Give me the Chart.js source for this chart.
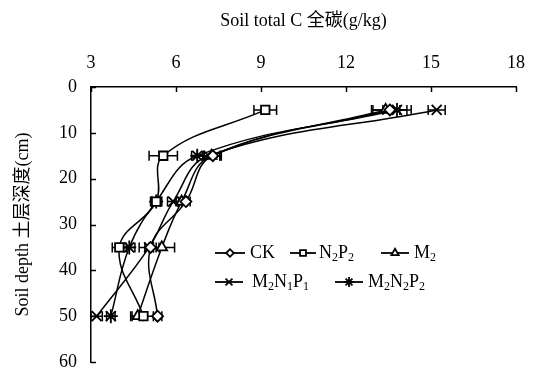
<!DOCTYPE html>
<html><head><meta charset="utf-8">
<script src="https://cdn.jsdelivr.net/npm/chart.js@4"></script>
<style>html,body{margin:0;padding:0;background:#fff}</style>
</head><body>
<canvas id="c" width="534" height="373"></canvas>
<script>
// ---- data ----
const depths = [5, 15, 25, 35, 50];
const seriesNames = ["CK", "N2P2", "M2", "M2N1P1", "M2N2P2"];
const ck     = [13.55, 7.3, 6.35, 5.1, 5.35];
const n2p2   = [9.15, 5.55, 5.3, 4.0, 4.85];
const m2     = [13.4, 7.25, 6.2, 5.5, 4.65];
const m2n1p1 = [15.2, 7.15, 5.9, 5.05, 3.2];
const m2n2p2 = [13.8, 6.75, 5.3, 4.35, 3.7];
const ckErr     = [0.6, 0.3, 0.15, 0.2, 0.15];
const n2p2Err   = [0.4, 0.5, 0.2, 0.25, 0.45];
const m2Err     = [0.5, 0.3, 0.2, 0.45, 0.2];
const m2n1p1Err = [0.3, 0.4, 0.2, 0.35, 0.2];
const m2n2p2Err = [0.5, 0.2, 0.15, 0.2, 0.15];
const xTicks = [3, 6, 9, 12, 15, 18];
const yTicks = [0, 10, 20, 30, 40, 50, 60];
const xTitle = "Soil total C 全碳(g/kg)";
const yTitle = "Soil depth 土层深度(cm)";

const FONT = '"Liberation Serif", "Times New Roman", "Noto Sans CJK SC", serif';
const styles = ["rectRot", "rect", "triangle", "crossRot", "star"];
const radii = [5.5, 6, 6, 7, 7];
const values = [ck, n2p2, m2, m2n1p1, m2n2p2];
const errs = [ckErr, n2p2Err, m2Err, m2n1p1Err, m2n2p2Err];

const datasets = seriesNames.map((name, i) => ({
  label: name,
  data: depths.map((d, j) => ({x: values[i][j], y: d})),
  errors: errs[i],
  showLine: true,
  tension: 0.4,
  borderColor: '#000',
  borderWidth: 1.5,
  pointStyle: styles[i],
  pointRadius: radii[i],
  pointHoverRadius: radii[i],
  pointBackgroundColor: '#fff',
  pointBorderColor: '#000',
  pointBorderWidth: 1.8,
  fill: false
}));

const helperPlugin = {
  id: 'helper',
  beforeDatasetsDraw(chart) {
    const ctx = chart.ctx, xs = chart.scales.x, ys = chart.scales.y;
    ctx.save();
    ctx.strokeStyle = '#000';
    ctx.lineWidth = 1.5;
    chart.data.datasets.forEach(ds => {
      ds.data.forEach((p, j) => {
        const e = ds.errors[j];
        const x0 = xs.getPixelForValue(p.x - e), x1 = xs.getPixelForValue(p.x + e);
        const y = ys.getPixelForValue(p.y);
        ctx.beginPath();
        ctx.moveTo(x0, y); ctx.lineTo(x1, y);
        ctx.moveTo(x0, y - 5); ctx.lineTo(x0, y + 5);
        ctx.moveTo(x1, y - 5); ctx.lineTo(x1, y + 5);
        ctx.stroke();
      });
    });
    ctx.restore();
  },
  afterDraw(chart) {
    const ctx = chart.ctx, xs = chart.scales.x, ys = chart.scales.y;
    const area = chart.chartArea;
    ctx.save();
    ctx.strokeStyle = '#000';
    ctx.lineWidth = 1.5;
    // inward ticks
    xTicks.forEach(v => {
      const x = Math.round(xs.getPixelForValue(v)) + 0.5;
      ctx.beginPath(); ctx.moveTo(x, area.top); ctx.lineTo(x, area.top + 5); ctx.stroke();
    });
    yTicks.forEach(v => {
      const y = Math.round(ys.getPixelForValue(v)) + 0.5;
      ctx.beginPath(); ctx.moveTo(area.left, y); ctx.lineTo(area.left + 5, y); ctx.stroke();
    });
    // legend
    const items = [
      {i: 0, x0: 215, x1: 245, tx: 250, y: 253},
      {i: 1, x0: 290, x1: 316, tx: 319, y: 253},
      {i: 2, x0: 381, x1: 409, tx: 414, y: 253},
      {i: 3, x0: 215, x1: 243, tx: 252, y: 282},
      {i: 4, x0: 335, x1: 363, tx: 368, y: 282}
    ];
    items.forEach(it => {
      const ds = chart.data.datasets[it.i];
      ctx.lineWidth = 1.8;
      ctx.strokeStyle = '#000';
      ctx.beginPath(); ctx.moveTo(it.x0, it.y); ctx.lineTo(it.x1, it.y); ctx.stroke();
      ctx.fillStyle = '#fff';
      ctx.strokeStyle = '#000';
      ctx.lineWidth = 1.8;
      Chart.helpers.drawPoint(ctx, {pointStyle: ds.pointStyle, radius: ds.pointRadius * 0.7, rotation: 0, borderWidth: 1.8}, (it.x0 + it.x1) / 2, it.y);
      let x = it.tx;
      ctx.fillStyle = '#000';
      ctx.textBaseline = 'middle';
      ctx.textAlign = 'left';
      for (const ch of ds.label) {
        if (/[0-9]/.test(ch)) {
          ctx.font = '12px ' + FONT;
          ctx.fillText(ch, x, it.y + 5);
          x += ctx.measureText(ch).width;
        } else {
          ctx.font = '18px ' + FONT;
          ctx.fillText(ch, x, it.y);
          x += ctx.measureText(ch).width;
        }
      }
    });
    ctx.restore();
  }
};

new Chart(document.getElementById('c'), {
  type: 'scatter',
  data: {datasets},
  options: {
    responsive: false,
    animation: false,
    events: [],
    layout: {padding: {left: 0, top: 0, right: 18, bottom: 11}},
    plugins: {legend: {display: false}, tooltip: {enabled: false}},
    scales: {
      x: {
        type: 'linear', position: 'top', min: 3, max: 18,
        afterBuildTicks: s => { s.ticks = xTicks.map(v => ({value: v})); },
        afterFit: s => { s.height = 87; s.paddingLeft = 0; s.paddingRight = 0; s.paddingTop = 0; s.paddingBottom = 0; },
        ticks: {color: '#000', font: {family: FONT, size: 18}, padding: 13},
        grid: {display: true, drawOnChartArea: false, drawTicks: false},
        border: {display: true, color: '#000', width: 1.5},
        title: {display: true, text: xTitle, color: '#000', font: {family: FONT, size: 18}, padding: {top: 10, bottom: 0}}
      },
      y: {
        type: 'linear', position: 'left', min: 0, max: 60, reverse: true,
        afterBuildTicks: s => { s.ticks = yTicks.map(v => ({value: v})); },
        afterFit: s => { s.width = 91; s.paddingLeft = 0; s.paddingRight = 0; s.paddingTop = 0; s.paddingBottom = 0; },
        ticks: {color: '#000', font: {family: FONT, size: 18}, padding: 14},
        grid: {display: true, drawOnChartArea: false, drawTicks: false},
        border: {display: true, color: '#000', width: 1.5},
        title: {display: true, text: yTitle, color: '#000', font: {family: FONT, size: 18}, padding: {top: 12, bottom: 0}}
      }
    }
  },
  plugins: [helperPlugin]
});
</script>
</body></html>
